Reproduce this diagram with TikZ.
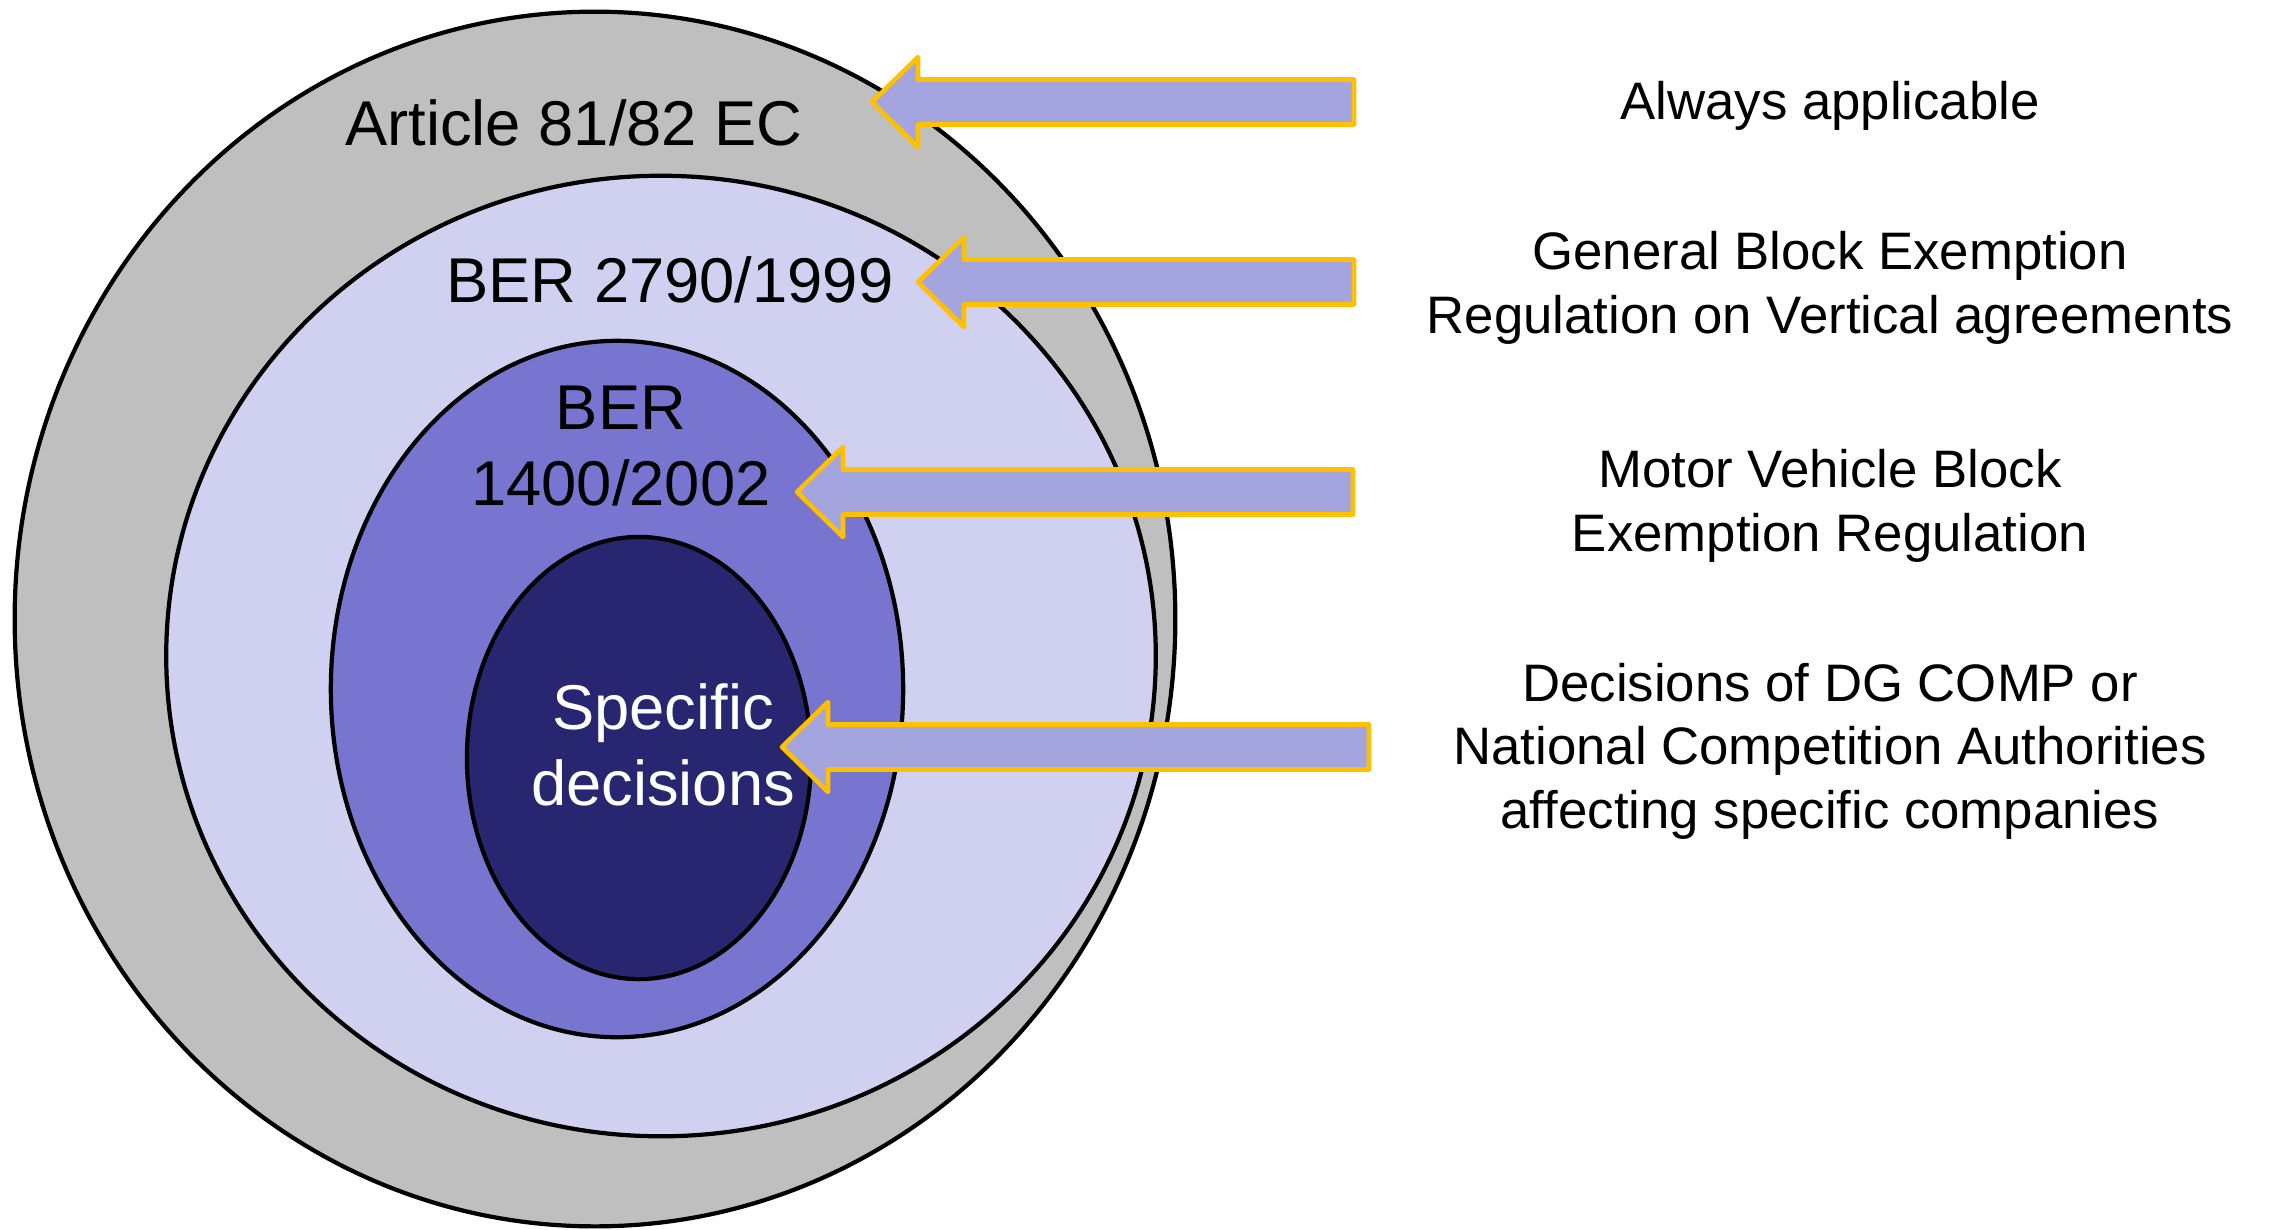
\documentclass[tikz,border=0pt]{standalone}
\usepackage{fontspec}
\setmainfont{Liberation Sans}
\usetikzlibrary{shapes.geometric}
\definecolor{ecgray}{RGB}{191,191,191}
\definecolor{berlight}{RGB}{208,208,240}
\definecolor{bermid}{RGB}{119,117,208}
\definecolor{decdark}{RGB}{40,38,112}
\definecolor{arrowfill}{RGB}{164,164,222}
\definecolor{arrowline}{RGB}{255,192,0}
\begin{document}
\begin{tikzpicture}[x=0.01cm,y=-0.01cm,
  ring/.style={ellipse,draw=black,line width=1.2pt,inner sep=0pt},
  biglabel/.style={font=\fontsize{18}{21.6}\selectfont,align=center,anchor=base,inner sep=0pt},
  note/.style={font=\fontsize{15}{18}\selectfont,align=center,anchor=base,inner sep=0pt},
  blockarrow/.style={draw=arrowline,fill=arrowfill,line width=1.3pt,line join=round}]
\useasboundingbox (0,0) rectangle (2269,1229);
% nested scopes
\node[ring,fill=ecgray,minimum width=11.6cm,minimum height=12.14cm] (art) at (595,619) {};
\node[ring,fill=berlight,minimum width=9.89cm,minimum height=9.6cm] (gen) at (661,656) {};
\node[ring,fill=bermid,minimum width=5.72cm,minimum height=6.96cm] (mv) at (617,689) {};
\node[ring,fill=decdark,minimum width=3.44cm,minimum height=4.42cm] (dec) at (639,758) {};
% base = baseline of the last line
\node[biglabel] (artlabel) at (574,145) {Article 81/82 EC};
\node[biglabel] (genlabel) at (670,302) {BER 2790/1999};
\node[biglabel] (mvlabel) at (621,505) {BER\\1400/2002};
\node[biglabel,text=white] (declabel) at (663,805) {Specific\\decisions};
% explanations
\node[note] (always) at (1830,119) {Always applicable};
\node[note] (gber) at (1830,333) {General Block Exemption\\Regulation on Vertical agreements};
\node[note] (mvber) at (1830,551) {Motor Vehicle Block\\Exemption Regulation};
\node[note] (nca) at (1830,828) {Decisions of DG COMP or\\National Competition Authorities\\affecting specific companies};
% block arrows
\foreach \tx/\ty/\ex in {872/102/1354,918/282/1354,797/492/1353,782/747/1369}
  \draw[blockarrow] (\tx,\ty)--++(46,-45)--++(0,22.5)--(\ex,\ty-22.5)--(\ex,\ty+22.5)--(\tx+46,\ty+22.5)--++(0,22.5)--cycle;
\end{tikzpicture}
\end{document}
